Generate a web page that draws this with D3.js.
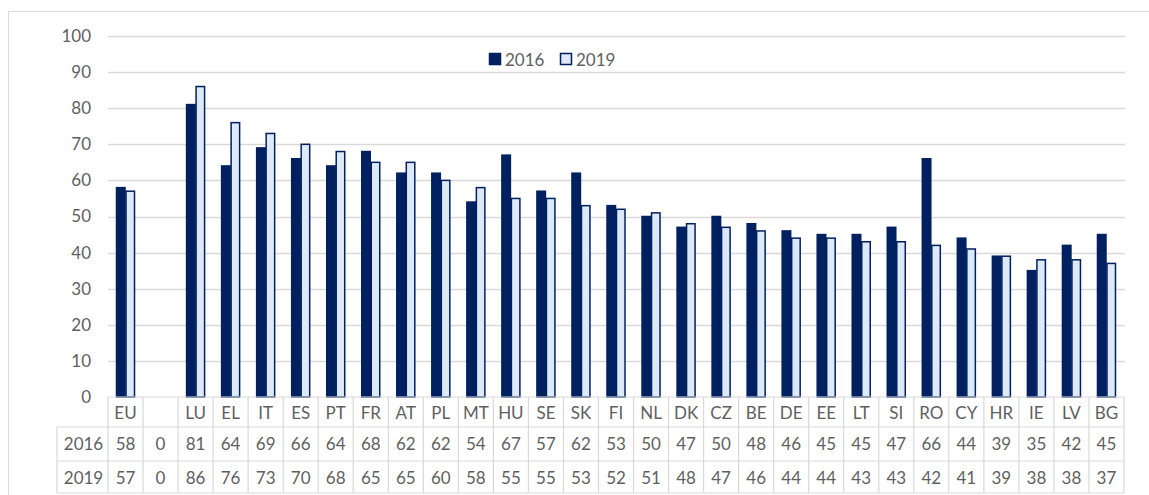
<!DOCTYPE html>
<html><head><meta charset="utf-8">
<script src="https://cdn.jsdelivr.net/npm/d3@7"></script>
<style>body{margin:0;background:#fff}svg{display:block;font-family:Lato,"Open Sans",sans-serif}</style>
</head><body>
<script>
const categories = ["EU","","LU","EL","IT","ES","PT","FR","AT","PL","MT","HU","SE","SK","FI","NL","DK","CZ","BE","DE","EE","LT","SI","RO","CY","HR","IE","LV","BG"];
const values2016 = [58,0,81,64,69,66,64,68,62,62,54,67,57,62,53,50,47,50,48,46,45,45,47,66,44,39,35,42,45];
const values2019 = [57,0,86,76,73,70,68,65,65,60,58,55,55,53,52,51,48,47,46,44,44,43,43,42,41,39,38,38,37];
const seriesNames = ["2016","2019"];
const yTicks = [0,10,20,30,40,50,60,70,80,90,100];

const W = 1149, H = 495;
const dark = "#002060", light = "#dde9f6", grid = "#d9d9d9", txt = "#5f5f5f";
const FS = 17;
const svg = d3.select("body").append("svg").attr("width", W).attr("height", H);

// frame
svg.append("rect").attr("x", 8.5).attr("y", 11.5).attr("width", W).attr("height", H)
  .attr("fill", "#fff").attr("stroke", "#dcdcdc");

const x = d3.scaleBand().domain(d3.range(categories.length)).range([108, 1124]);
const y = d3.scaleLinear().domain([0, 100]).range([397, 36]);
const barW = 9.5;

// gridlines
svg.append("g").selectAll("line").data(yTicks.filter(d => d > 0)).join("line")
  .attr("x1", 108).attr("x2", 1125).attr("y1", d => Math.round(y(d)) + 0.5).attr("y2", d => Math.round(y(d)) + 0.5)
  .attr("stroke", grid).attr("stroke-width", 1.3);

// y axis labels
const yAxis = d3.axisLeft(y).tickValues(yTicks).tickSize(0).tickPadding(0);
const ga = svg.append("g").attr("transform", "translate(91,0)").call(yAxis);
ga.select(".domain").remove();
ga.selectAll("text").attr("fill", txt).attr("font-size", FS).attr("font-family", "Lato,'Open Sans',sans-serif");

// bars
const gb = svg.append("g");
const series = [values2016, values2019];
series.forEach((vals, si) => {
  gb.selectAll(null).data(vals.map((v, i) => ({v, i}))).join("rect")
    .attr("x", d => x(d.i) + x.bandwidth() / 2 - barW + si * barW + 0.5)
    .attr("y", d => y(d.v))
    .attr("width", barW - 1)
    .attr("height", d => y(0) - y(d.v))
    .attr("fill", si === 0 ? dark : light)
    .attr("stroke", dark).attr("stroke-width", 1.5)
    .attr("display", d => d.v === 0 ? "none" : null);
});

// data table
const rowY = [397, 427, 461, 493];
const labelX0 = 57;
const gt = svg.append("g").attr("stroke", grid).attr("stroke-width", 1.2);
gt.append("line").attr("x1", 108).attr("x2", 1124).attr("y1", rowY[0]).attr("y2", rowY[0]);
[1,2,3].forEach(r => gt.append("line").attr("x1", labelX0).attr("x2", 1124).attr("y1", rowY[r]).attr("y2", rowY[r]));
gt.append("line").attr("x1", labelX0).attr("x2", labelX0).attr("y1", rowY[1]).attr("y2", rowY[3]);
d3.range(categories.length + 1).forEach(i => {
  const xx = i < categories.length ? x(i) : 1124;
  gt.append("line").attr("x1", xx).attr("x2", xx).attr("y1", rowY[0]).attr("y2", rowY[3]);
});

const tg = svg.append("g").attr("fill", txt).attr("font-size", FS).attr("text-anchor", "middle");
tg.selectAll(null).data(categories).join("text")
  .attr("x", (d, i) => x(i) + x.bandwidth() / 2).attr("y", 418.5).text(d => d);
series.forEach((vals, si) => {
  tg.selectAll(null).data(vals).join("text")
    .attr("x", (d, i) => x(i) + x.bandwidth() / 2).attr("y", si === 0 ? 450 : 483.5).text(d => d);
  tg.append("text").attr("x", (labelX0 + 108) / 2 + 1).attr("y", si === 0 ? 450 : 483.5).text(seriesNames[si]);
});

// legend
const lg = svg.append("g");
const legX = [489, 560];
seriesNames.forEach((s, i) => {
  lg.append("rect").attr("x", legX[i] + 0.5).attr("y", 53.5).attr("width", 11).attr("height", 11)
    .attr("fill", i === 0 ? dark : light).attr("stroke", dark).attr("stroke-width", 1.5);
  lg.append("text").attr("x", legX[i] + 16).attr("y", 65.5).attr("fill", txt).attr("font-size", FS).text(s);
});
</script>
</body></html>
